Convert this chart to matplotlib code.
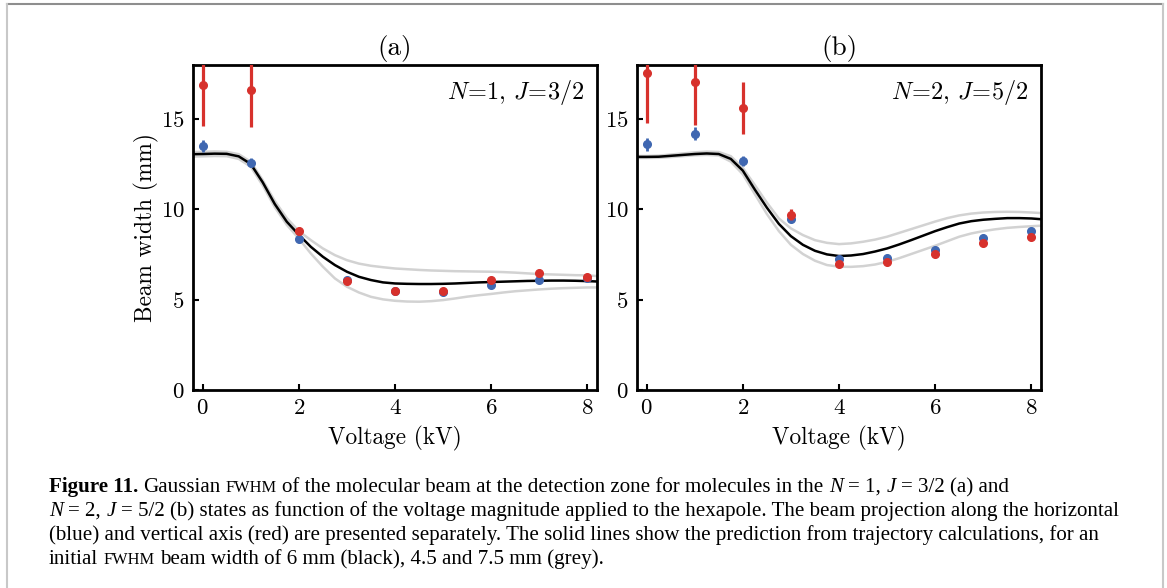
import numpy as np
import matplotlib
matplotlib.use("Agg")
import matplotlib.pyplot as plt
from matplotlib.lines import Line2D
from matplotlib.transforms import IdentityTransform

plt.rcParams['font.family'] = 'serif'
plt.rcParams['font.serif'] = ['cmr10']
plt.rcParams['mathtext.fontset'] = 'cm'
plt.rcParams['axes.unicode_minus'] = False
plt.rcParams['axes.formatter.use_mathtext'] = True

# measured points (kV)
volts = [0, 1, 2, 3, 4, 5, 6, 7, 8]

a_blue = [13.52, 12.58, 8.39, 6.12, 5.46, 5.45, 5.80, 6.07, 6.20]
a_blue_err = [0.35, 0.25, 0.1, 0.1, 0.08, 0.08, 0.08, 0.08, 0.08]
a_red = [16.9, 16.64, 8.78, 6.03, 5.46, 5.48, 6.08, 6.47, 6.28]
a_red_err = [2.3, 2.05, 0.15, 0.1, 0.1, 0.1, 0.1, 0.1, 0.1]

b_blue = [13.61, 14.19, 12.67, 9.47, 7.23, 7.32, 7.75, 8.41, 8.80]
b_blue_err = [0.35, 0.37, 0.27, 0.12, 0.1, 0.1, 0.1, 0.1, 0.1]
b_red = [17.58, 17.06, 15.62, 9.70, 6.99, 7.08, 7.56, 8.13, 8.45]
b_red_err = [2.8, 2.4, 1.45, 0.3, 0.1, 0.1, 0.1, 0.1, 0.1]

# trajectory simulations
sim_v = [-0.2, 0, 0.25, 0.5, 0.75, 1, 1.25, 1.5, 1.75, 2, 2.25, 2.5, 2.75, 3,
         3.25, 3.5, 3.75, 4, 4.25, 4.5, 4.75, 5, 5.25, 5.5, 5.75, 6, 6.25, 6.5,
         6.75, 7, 7.25, 7.5, 7.75, 8, 8.2]

a_sim_6 = [13.06, 13.07, 13.09, 13.08, 12.94, 12.52, 11.5, 10.3, 9.32, 8.6,
           7.93, 7.38, 6.92, 6.55, 6.27, 6.09, 5.96, 5.9, 5.88, 5.87, 5.87,
           5.88, 5.9, 5.93, 5.96, 5.98, 6.0, 6.02, 6.04, 6.05, 6.06, 6.06,
           6.05, 6.03, 6.01]
a_sim_75 = [13.18, 13.19, 13.21, 13.19, 13.06, 12.64, 11.62, 10.47, 9.52, 8.8,
            8.3, 7.84, 7.47, 7.19, 7.0, 6.88, 6.8, 6.73, 6.69, 6.65, 6.62,
            6.6, 6.58, 6.57, 6.56, 6.55, 6.53, 6.5, 6.46, 6.42, 6.4, 6.38,
            6.36, 6.35, 6.31]
a_sim_45 = [12.93, 12.94, 12.96, 12.95, 12.8, 12.37, 11.33, 10.13, 9.15, 8.39,
            7.56, 6.83, 6.18, 5.72, 5.4, 5.16, 5.02, 4.94, 4.9, 4.89, 4.92,
            4.98, 5.07, 5.17, 5.25, 5.32, 5.4, 5.47, 5.52, 5.57, 5.61, 5.64,
            5.66, 5.68, 5.68]

b_sim_6 = [12.91, 12.91, 12.92, 12.97, 13.02, 13.07, 13.1, 13.07, 12.8, 12.15,
           11.1, 10.1, 9.2, 8.52, 8.04, 7.71, 7.51, 7.42, 7.45, 7.53, 7.67,
           7.84, 8.06, 8.3, 8.55, 8.8, 9.02, 9.22, 9.35, 9.43, 9.48, 9.52,
           9.52, 9.5, 9.46]
b_sim_75 = [12.96, 12.96, 12.98, 13.04, 13.1, 13.16, 13.2, 13.18, 12.95, 12.3,
            11.35, 10.38, 9.5, 8.95, 8.58, 8.3, 8.15, 8.08, 8.12, 8.21, 8.33,
            8.49, 8.7, 8.91, 9.12, 9.33, 9.52, 9.67, 9.77, 9.83, 9.86, 9.87,
            9.86, 9.83, 9.8]
b_sim_45 = [12.85, 12.85, 12.86, 12.9, 12.95, 13.0, 13.02, 12.99, 12.65, 11.95,
            10.85, 9.75, 8.8, 8.04, 7.53, 7.16, 6.92, 6.83, 6.82, 6.86, 6.95,
            7.1, 7.3, 7.53, 7.76, 7.99, 8.24, 8.49, 8.67, 8.8, 8.9, 8.98,
            9.03, 9.07, 9.1]

BLUE = '#3f67b1'
RED = '#d7312c'
GREY = '#d2d2d2'

W, H = 1167, 588
fig = plt.figure(figsize=(W / 100, H / 100), dpi=100)

panels = [
    (193, 'a', r'$N\!=\!1,\,J\!=\!3/2$', a_blue, a_blue_err, a_red, a_red_err,
     a_sim_6, a_sim_45, a_sim_75),
    (637, 'b', r'$N\!=\!2,\,J\!=\!5/2$', b_blue, b_blue_err, b_red, b_red_err,
     b_sim_6, b_sim_45, b_sim_75),
]

for i, (x0, tag, state, bl, ble, rd, rde, s6, s45, s75) in enumerate(panels):
    ax = fig.add_axes([x0 / W, (H - 390) / H, 404 / W, 325 / H])
    ax.plot(sim_v, s45, color=GREY, lw=1.8, zorder=1)
    ax.plot(sim_v, s75, color=GREY, lw=1.8, zorder=1)
    ax.plot(sim_v, s6, color='black', lw=1.8, zorder=2)
    ax.errorbar(volts, bl, yerr=ble, fmt='o', color=BLUE, ms=5.5,
                elinewidth=2.0, capsize=0, zorder=3)
    ax.errorbar(volts, rd, yerr=rde, fmt='o', color=RED, ms=5.5,
                elinewidth=2.3, capsize=0, zorder=4)
    ax.set_xlim(-0.2, 8.2)
    ax.set_ylim(0, 18)
    ax.set_xticks([0, 2, 4, 6, 8])
    ax.set_yticks([0, 5, 10, 15])
    ax.tick_params(direction='in', length=4.5, width=1.5, labelsize=16.5)
    ax.tick_params(axis='x', pad=6)
    ax.tick_params(axis='y', pad=6)
    for sp in ax.spines.values():
        sp.set_linewidth(2.0)
    ax.set_title('(' + tag + ')', fontsize=19.5, pad=7)
    ax.set_xlabel('Voltage (kV)', fontsize=16.8, labelpad=6)
    if i == 0:
        ax.set_ylabel('Beam width (mm)', fontsize=16.8, labelpad=1.5)
    ax.text(0.97, 0.915, state, transform=ax.transAxes, ha='right',
            va='center', fontsize=17.5)

# page frame
fig.add_artist(Line2D([7 / W, 1163 / W], [1 - 4 / H, 1 - 4 / H],
                      transform=fig.transFigure, color='#8e8e8e', lw=1.5))
for xf in (7, 1163):
    fig.add_artist(Line2D([xf / W, xf / W], [1 - 4 / H, 0],
                          transform=fig.transFigure, color='#c8c8c8', lw=1.5))

# caption
CAP = 15.1
SERIF = 'Liberation Serif'
styles = {
    'rg': dict(family=SERIF, size=CAP),
    'bf': dict(family=SERIF, size=CAP, weight='bold'),
    'it': dict(family=SERIF, size=CAP, style='italic'),
    'sc': dict(family=SERIF, size=CAP * 0.78),
}
caption = [
    (492, [('Figure 11.', 'bf'), ('Gaussian', 'rg'), ('FWHM', 'sc'),
           ('of the molecular beam at the detection zone for molecules in the', 'rg'),
           ('N', 'it'), ('= 1,', 'rg'), ('J', 'it'), ('= 3/2 (a) and', 'rg')]),
    (516, [('N', 'it'), ('= 2,', 'rg'), ('J', 'it'),
           ('= 5/2 (b) states as function of the voltage magnitude applied to '
            'the hexapole. The beam projection along the horizontal', 'rg')]),
    (540, [('(blue) and vertical axis (red) are presented separately. The solid '
            'lines show the prediction from trajectory calculations, for an', 'rg')]),
    (564, [('initial', 'rg'), ('FWHM', 'sc'),
           ('beam width of 6 mm (black), 4.5 and 7.5 mm (grey).', 'rg')]),
]
renderer = fig.canvas.get_renderer()
probe = fig.text(0, 0, 'x x', **styles['rg'])
probe2 = fig.text(0, 0, 'xx', **styles['rg'])
space = (probe.get_window_extent(renderer).width
         - probe2.get_window_extent(renderer).width)
probe.remove()
probe2.remove()
for y, runs in caption:
    x = 49
    for k, (txt, st) in enumerate(runs):
        if k > 0:
            x += space
        t = fig.text(x, H - y, txt, transform=IdentityTransform(),
                     va='baseline', **styles[st])
        x += t.get_window_extent(renderer).width

fig.savefig('out.png', dpi=100)
